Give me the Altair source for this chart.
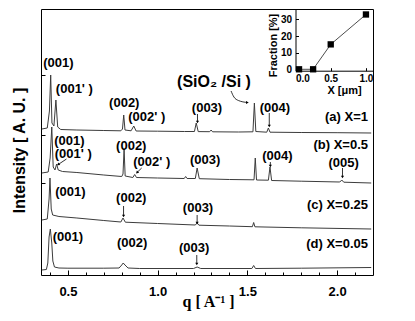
import altair as alt
import pandas as pd

# ---------------- data ----------------
curve_names = ["a", "b", "c", "d"]
curve_offsets = [142, 92, 46, 4]

curve_a = [(0.355, 4), (0.385, 5), (0.397, 22), (0.404, 58), (0.411, 10), (0.422, 7),
           (0.433, 33), (0.443, 6), (0.46, 3.5), (0.55, 3), (0.70, 2.5), (0.795, 2.2),
           (0.804, 4), (0.811, 18), (0.818, 3), (0.852, 2.2), (0.867, 7), (0.88, 2),
           (1.0, 1.8), (1.15, 1.5), (1.205, 1.5), (1.215, 10), (1.226, 1.4), (1.29, 1.3),
           (1.298, 3), (1.306, 1.2), (1.45, 1.0), (1.531, 1.2), (1.539, 30), (1.547, 1.5),
           (1.608, 0.8), (1.617, 5), (1.626, 0.8), (1.8, 0.5), (2.0, 0.3), (2.19, 0)]
curve_b = [(0.355, 10), (0.39, 11), (0.401, 25), (0.41, 56), (0.418, 16), (0.428, 13),
           (0.437, 19), (0.446, 13), (0.47, 11.5), (0.55, 10.5), (0.70, 8), (0.80, 6.5),
           (0.807, 9), (0.813, 34), (0.819, 7), (0.862, 5.5), (0.872, 8.5), (0.882, 5.5),
           (1.0, 5), (1.148, 4.5), (1.156, 6.5), (1.164, 4.5), (1.21, 4.5), (1.22, 15),
           (1.232, 4.3), (1.40, 3.5), (1.537, 3.2), (1.544, 25), (1.551, 3), (1.617, 2.8),
           (1.626, 16), (1.635, 2.5), (1.8, 1.8), (2.015, 1), (2.026, 3), (2.037, 0.8),
           (2.19, 0)]
curve_c = [(0.355, 9), (0.385, 10), (0.395, 30), (0.40, 51), (0.407, 20), (0.415, 14),
           (0.45, 12.5), (0.55, 11), (0.70, 8.5), (0.795, 7), (0.807, 11), (0.82, 6.8),
           (1.0, 5.5), (1.21, 4), (1.22, 6), (1.23, 3.8), (1.40, 3), (1.528, 2.3),
           (1.535, 6.5), (1.542, 2.2), (1.8, 1.2), (2.19, 0)]
curve_d = [(0.355, 1), (0.38, 1.5), (0.388, 8), (0.395, 34), (0.402, 42), (0.41, 28),
           (0.416, 10), (0.425, 4), (0.45, 3), (0.5, 2.8), (0.70, 2.8), (0.785, 3),
           (0.80, 6), (0.808, 8), (0.818, 6), (0.835, 3), (0.9, 2.5), (1.20, 2.5),
           (1.22, 4), (1.24, 2.5), (1.525, 2.5), (1.535, 5.5), (1.545, 2.5), (1.8, 2.8),
           (2.19, 3.5)]

peak_labels = ["(001)", "(001' )", "(002)", "(002' )", "(003)", "(004)",
               "(001)", "(001' )", "(002)", "(002' )", "(003)", "(004)", "(005)",
               "(001)", "(002)", "(003)",
               "(001)", "(002)", "(003)"]
peak_label_q = [0.447, 0.536, 0.814, 0.939, 1.275, 1.653,
                0.508, 0.530, 0.853, 0.967, 1.265, 1.667, 2.036,
                0.514, 0.853, 1.225,
                0.500, 0.858, 1.203]
peak_label_v = [212, 186, 172, 158, 167, 167,
                134.5, 121, 129, 113, 115, 119, 112,
                83, 77, 67,
                38, 32, 27]

sample_labels = ["(a) X=1", "(b) X=0.5", "(c) X=0.25", "(d) X=0.05"]
sample_label_q = [2.172, 2.172, 2.172, 2.172]
sample_label_v = [158, 130, 70, 31]

arrow_q1 = [1.222, 1.622, 1.628, 2.030, 0.810, 1.220, 1.218, 0.492, 0.911]
arrow_v1 = [161, 162, 113, 107, 69, 60, 20, 116, 107]
arrow_q2 = [1.222, 1.622, 1.628, 2.030, 0.810, 1.220, 1.218, 0.446, 0.885]
arrow_v2 = [153, 149, 109, 98, 59, 52, 11, 110.5, 102.5]
arrow_angle = [0, 0, 0, 0, 0, 0, 0, 52, 45]

sio2_label = "(SiO₂ /Si )"
sio2_q, sio2_v = 1.314, 193
sio2_arrow_q = [1.409, 1.425, 1.45, 1.50]
sio2_arrow_v = [184, 178, 174.5, 172.5]

inset_x = [0.05, 0.25, 0.5, 1.0]
inset_frac = [0, 0, 15, 33]

major_ticks = [0.5, 1.0, 1.5, 2.0]
minor_ticks = [0.4, 0.6, 0.7, 0.8, 0.9, 1.1, 1.2, 1.3, 1.4, 1.6, 1.7, 1.8, 1.9, 2.1]
inset_xticks = [0.0, 0.5, 1.0]
inset_yticks = [0, 10, 20, 30]

# ---------------- tables ----------------
rows = []
for name, off, pts in zip(curve_names, curve_offsets, [curve_a, curve_b, curve_c, curve_d]):
    for q, i in pts:
        rows.append({"curve": name, "q": q, "v": i + off})
spec_df = pd.DataFrame(rows)
peaks_df = pd.DataFrame({"label": peak_labels, "q": peak_label_q, "v": peak_label_v})
samples_df = pd.DataFrame({"label": sample_labels, "q": sample_label_q, "v": sample_label_v})
arrows_df = pd.DataFrame({"q": arrow_q1, "v": arrow_v1, "q2": arrow_q2, "v2": arrow_v2,
                          "angle": arrow_angle})
heads_df = pd.DataFrame({"q": arrow_q2, "v": arrow_v2, "angle": arrow_angle})
sio2_df = pd.DataFrame({"label": [sio2_label], "q": [sio2_q], "v": [sio2_v]})
sio2_arrow_df = pd.DataFrame({"q": sio2_arrow_q, "v": sio2_arrow_v,
                              "o": list(range(len(sio2_arrow_q)))})
sio2_head_df = sio2_arrow_df.tail(1)
inset_df = pd.DataFrame({"x": inset_x, "f": inset_frac})

FONT = "Liberation Sans"
xs = alt.Scale(domain=[0.35, 2.2], nice=False, zero=False)
ys = alt.Scale(domain=[0, 266], nice=False, zero=False)

is_major = "abs(datum.value*2 - round(datum.value*2)) < 0.01"
x_axis = alt.Axis(
    values=sorted(major_ticks + minor_ticks),
    labelExpr=f"{is_major} ? format(datum.value, '.1f') : ''",
    domain=False, grid=False, offset=-5, tickSize=5,
    tickDash={"condition": {"test": f"!({is_major})", "value": [0, 2, 3, 0]}, "value": [5, 0]},
    labelFont=FONT, labelFontWeight="bold", labelFontSize=13, labelPadding=10,
    title="q [ A⁻¹ ]", titleFont="Liberation Serif", titleFontWeight="bold",
    titleFontSize=16, titleBaseline="alphabetic", titleY=36, titleX=167,
)
y_axis = alt.Axis(
    values=[92, 140, 200], labels=False, domain=False, grid=False, offset=-4, tickSize=4,
    title="Intensity [ A. U. ]", titleFont=FONT, titleFontWeight="bold", titleFontSize=16,
    titlePadding=13, titleY=141,
)


def X(f):
    return alt.X(f, scale=xs, axis=x_axis)


def Y(f):
    return alt.Y(f, scale=ys, axis=y_axis)


curves = alt.Chart(spec_df).mark_line(color="#3c3c3c", strokeWidth=1).encode(
    x=X("q:Q"), y=Y("v:Q"), detail="curve:N")
peak_text = alt.Chart(peaks_df).mark_text(font=FONT, fontWeight="bold", fontSize=13,
                                          color="black").encode(
    x=X("q:Q"), y=Y("v:Q"), text="label:N")
sample_text = alt.Chart(samples_df).mark_text(font=FONT, fontWeight="bold", fontSize=13,
                                              color="black", align="right").encode(
    x=X("q:Q"), y=Y("v:Q"), text="label:N")
sio2_text = alt.Chart(sio2_df).mark_text(font=FONT, fontWeight="bold", fontSize=16,
                                         color="black").encode(
    x=X("q:Q"), y=Y("v:Q"), text="label:N")
arrow_rules = alt.Chart(arrows_df).mark_rule(color="black", strokeWidth=0.8).encode(
    x=X("q:Q"), y=Y("v:Q"), x2="q2:Q", y2="v2:Q")
arrow_heads = alt.Chart(heads_df).mark_point(shape="triangle-down", filled=True, size=10,
                                             color="black", opacity=1).encode(
    x=X("q:Q"), y=Y("v:Q"), angle=alt.Angle("angle:Q", scale=None))
sio2_line = alt.Chart(sio2_arrow_df).mark_line(color="black", strokeWidth=0.8,
                                               interpolate="monotone").encode(
    x=X("q:Q"), y=Y("v:Q"), order="o:Q")
sio2_head = alt.Chart(sio2_head_df).mark_point(shape="triangle-right", filled=True, size=10,
                                               color="black", opacity=1).encode(
    x=X("q:Q"), y=Y("v:Q"))

main = alt.layer(curves, peak_text, sample_text, sio2_text, arrow_rules, arrow_heads,
                 sio2_line, sio2_head)

# ---------------- inset ----------------
ixs = alt.Scale(domain=[0, 1.1], range=[254.5, 332], nice=False, zero=False)
iys = alt.Scale(domain=[-0.85, 36.3], range=[61.7, 0], nice=False, zero=False)
# ticks and labels (inward ticks: axis shifted inside by the tick length)
ix_axis = alt.Axis(values=inset_xticks, format=".1f", orient="bottom", offset=-207.3,
                   grid=False, domain=False, tickSize=3, tickColor="black",
                   labelFont=FONT, labelFontWeight="bold", labelFontSize=10, labelPadding=3,
                   title="X [μm]", titleFont=FONT, titleFontWeight="bold", titleFontSize=11,
                   titleBaseline="alphabetic", titleY=26, titleX=303)
iy_axis = alt.Axis(values=inset_yticks, orient="left", offset=-257.5, grid=False,
                   domain=False, tickSize=3, tickColor="black",
                   labelFont=FONT, labelFontWeight="bold", labelFontSize=10, labelPadding=4,
                   title="Fraction [%]", titleFont=FONT, titleFontWeight="bold",
                   titleFontSize=11, titlePadding=2, titleY=36)
# axis lines only
ix_dom = alt.Axis(orient="bottom", offset=-204.3, grid=False, ticks=False, labels=False,
                  title=None, domain=True, domainColor="black", domainWidth=1)
iy_dom = alt.Axis(orient="left", offset=-254.5, grid=False, ticks=False, labels=False,
                  title=None, domain=True, domainColor="black", domainWidth=1)

inset_line = alt.Chart(inset_df).mark_line(color="black", strokeWidth=0.7).encode(
    x=alt.X("x:Q", scale=ixs, axis=ix_axis),
    y=alt.Y("f:Q", scale=iys, axis=iy_axis))
inset_pts = alt.Chart(inset_df).mark_point(shape="square", filled=True, size=40,
                                           color="black", opacity=1).encode(
    x=alt.X("x:Q", scale=ixs, axis=ix_dom),
    y=alt.Y("f:Q", scale=iys, axis=iy_dom))
inset = alt.layer(inset_line, inset_pts).resolve_axis(x="independent", y="independent")

chart = alt.layer(main, inset).resolve_scale(
    x="independent", y="independent"
).resolve_axis(
    x="independent", y="independent"
).properties(
    width=332, height=266,
    padding={"left": 33, "top": 1, "right": 30, "bottom": 38},
    autosize=alt.AutoSizeParams(type="none"),
    background="white",
).configure_view(stroke="black", strokeWidth=1).configure_axis(
    labelColor="black", titleColor="black", tickColor="black", tickWidth=1)

chart.save("out.html", embed_options={"renderer": "svg", "actions": False})
